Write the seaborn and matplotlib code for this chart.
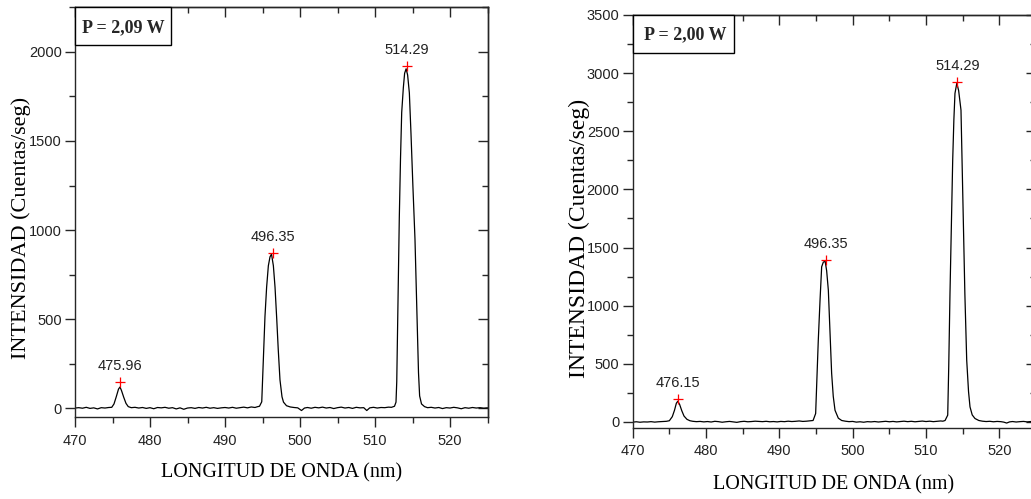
import numpy as np
import pandas as pd
import matplotlib
matplotlib.use("Agg")
import matplotlib.pyplot as plt
from matplotlib.patches import Rectangle
from matplotlib.ticker import MultipleLocator
import seaborn as sns

# ---- Spectrum at P = 2,09 W ----
wl_209 = [470.0, 470.5, 471.0, 471.5, 472.0, 472.5, 473.0, 473.5, 474.0, 474.5,
          474.9, 475.2, 475.5, 475.8, 476.0, 476.2, 476.5, 476.8, 477.1, 477.5,
          478.0, 478.5, 479.0, 479.5, 480.0, 480.5, 481.0, 481.5, 482.0, 482.5,
          483.0, 483.5, 484.0, 484.5, 485.0, 485.5, 486.0, 486.5, 487.0, 487.5,
          488.0, 488.5, 489.0, 489.5, 490.0, 490.5, 491.0, 491.5, 492.0, 492.5,
          493.0, 493.5, 494.0, 494.3, 494.6, 494.9, 495.1, 495.33, 495.55, 495.78,
          496.0, 496.2, 496.45, 496.67, 496.9, 497.1, 497.33, 497.6, 497.8, 498.2,
          498.7, 499.2, 499.7, 500.2, 500.6, 501.0, 501.5, 502.0, 502.5, 503.0,
          503.5, 504.0, 504.5, 505.0, 505.5, 506.0, 506.5, 507.0, 507.5, 508.0,
          508.5, 508.9, 509.3, 509.8, 510.3, 510.8, 511.3, 511.8, 512.2, 512.6,
          512.8, 512.9, 513.05, 513.24, 513.4, 513.56, 513.78, 513.95, 514.15, 514.35,
          514.58, 514.8, 515.05, 515.33, 515.6, 515.8, 515.95, 516.2, 516.6, 517.0,
          517.5, 518.0, 518.5, 519.0, 519.5, 520.0, 520.5, 521.0, 521.5, 522.0,
          522.5, 523.0, 523.5, 524.0, 524.5, 525.0]
int_209 = [2, 4, 1, 6, 0, 3, -3, 4, 2, 5,
           6, 25, 65, 108, 120, 100, 62, 28, 10, 4,
           6, 2, 5, 0, 4, -2, 5, 3, 6, 1,
           4, -3, 3, -5, 2, 4, 0, 5, 2, 6,
           1, 4, 0, 3, 5, 2, 6, 1, 4, 7,
           3, 8, 5, 9, 12, 37, 260, 516, 680, 800,
           850, 866, 800, 680, 500, 330, 160, 65, 35, 15,
           8, 5, 3, -12, 2, 5, 1, 6, 3, 7,
           2, 5, -1, 4, 7, 2, 5, 0, 6, 3,
           4, -12, 3, 6, 2, 5, 4, 7, 6, 12,
           35, 150, 550, 1070, 1400, 1660, 1800, 1880, 1905, 1870,
           1770, 1540, 1250, 950, 520, 200, 70, 25, 10, 4,
           6, 2, 5, -1, 4, 2, 6, 3, -2, 4,
           1, 5, 2, 4, 1, 3]
peak_wl_209 = [475.96, 496.35, 514.29]
peak_int_209 = [146, 873, 1921]

# ---- Spectrum at P = 2,00 W ----
wl_200 = [470.0, 470.5, 471.0, 471.5, 472.0, 472.5, 473.0, 473.5, 474.0, 474.6,
          475.0, 475.4, 475.7, 475.95, 476.15, 476.4, 476.7, 477.0, 477.4, 477.8,
          478.2, 478.7, 479.2, 479.7, 480.2, 480.7, 481.2, 481.7, 482.2, 482.7,
          483.2, 483.7, 484.2, 484.7, 485.2, 485.7, 486.2, 486.7, 487.2, 487.7,
          488.2, 488.7, 489.2, 489.7, 490.2, 490.7, 491.2, 491.7, 492.2, 492.7,
          493.2, 493.7, 494.2, 494.6, 494.95, 495.1, 495.31, 495.55, 495.77, 496.0,
          496.25, 496.45, 496.68, 496.9, 497.13, 497.35, 497.59, 498.04, 498.5, 499.0,
          499.5, 500.0, 500.5, 501.0, 501.5, 502.0, 502.5, 503.0, 503.5, 504.0,
          504.5, 505.0, 505.5, 506.0, 506.5, 507.0, 507.5, 508.0, 508.5, 509.0,
          509.5, 510.0, 510.5, 511.0, 511.5, 512.0, 512.3, 512.6, 512.96, 513.1,
          513.27, 513.45, 513.64, 513.8, 513.95, 514.2, 514.45, 514.77, 514.93, 515.09,
          515.3, 515.55, 515.8, 516.0, 516.3, 516.68, 517.2, 517.7, 518.2, 518.7,
          519.2, 519.7, 520.2, 520.6, 521.0, 521.4, 521.8, 522.3, 522.8, 523.3,
          523.8, 524.3, 524.8, 525.0]
int_200 = [-2, 1, -3, 0, -1, 2, -2, 1, 3, 5,
           10, 45, 100, 160, 178, 150, 95, 50, 22, 10,
           5, 2, 4, 0, 3, -1, 5, 2, -3, 1,
           4, 0, -4, 2, 5, 1, 3, 6, 4, 2,
           5, 1, 3, 0, 4, 2, 6, 3, 5, 8,
           4, 6, 9, 12, 72, 330, 703, 1050, 1334, 1375,
           1380, 1300, 1133, 780, 418, 220, 100, 32, 12, 6,
           2, 4, -2, 1, -3, 2, 0, 3, -1, 2,
           5, 1, 4, 0, 3, 6, 2, 5, 1, 4,
           7, 3, 6, 2, 5, 8, 6, 12, 58, 480,
           1105, 1680, 2252, 2600, 2826, 2913, 2850, 2682, 2200, 1678,
           1100, 531, 260, 129, 60, 29, 12, 6, 3, 5,
           1, 4, 2, -2, -10, 0, 3, -1, 2, 4,
           0, 3, 1, 2]
peak_wl_200 = [476.15, 496.35, 514.29]
peak_int_200 = [195, 1391, 2926]

power_labels = ["P = 2,09 W", "P = 2,00 W"]
x_title = "LONGITUD DE ONDA (nm)"
y_title = "INTENSIDAD (Cuentas/seg)"

sns.set_style("ticks")
plt.rcParams["font.family"] = ["Liberation Sans", "DejaVu Sans"]
plt.rcParams["axes.linewidth"] = 1.0

SERIF = ["Liberation Serif", "DejaVu Serif"]
TICK_COLOR = "#222222"

fig = plt.figure(figsize=(10.31, 4.99), dpi=100)
W, H = 1031.0, 499.0


def px_axes(left, top, right, bottom):
    return fig.add_axes([left / W, 1 - bottom / H, (right - left) / W, (bottom - top) / H])


panels = [
    dict(ax=px_axes(75, 7.3, 487.5, 417.3), wl=wl_209, inten=int_209,
         pk_wl=peak_wl_209, pk_int=peak_int_209, ylim=(-50, 2250),
         label=power_labels[0], box=(0.233, 0.0927), box_text=(0.116, 0.949),
         ylab_pos=(-0.131, 0.463), ylab_size=16, xlab_pos=(0.5, -0.135)),
    dict(ax=px_axes(632.7, 15, 1036, 427.7), wl=wl_200, inten=int_200,
         pk_wl=peak_wl_200, pk_int=peak_int_200, ylim=(-50, 3500),
         label=power_labels[1], box=(0.25, 0.0913), box_text=(0.130, 0.952),
         ylab_pos=(-0.133, 0.458), ylab_size=17, xlab_pos=(0.498, -0.139)),
]

for p in panels:
    ax = p["ax"]
    df = pd.DataFrame({"wl": p["wl"], "inten": p["inten"]})
    sns.lineplot(data=df, x="wl", y="inten", ax=ax, color="black", linewidth=0.9,
                 estimator=None)
    pk = pd.DataFrame({"wl": p["pk_wl"], "inten": p["pk_int"]})
    sns.scatterplot(data=pk, x="wl", y="inten", ax=ax, marker="+", color="red",
                    s=60, linewidth=0.9, zorder=5)
    for wl, val in zip(p["pk_wl"], p["pk_int"]):
        ax.annotate(f"{wl:.2f}", xy=(wl, val), xytext=(0, 16),
                    textcoords="offset pixels", ha="center", va="center",
                    fontsize=10.5, color=TICK_COLOR)

    ax.set_xlim(470, 525)
    ax.set_ylim(*p["ylim"])
    ax.xaxis.set_major_locator(MultipleLocator(10))
    ax.xaxis.set_minor_locator(MultipleLocator(5))
    ax.yaxis.set_major_locator(MultipleLocator(500))
    ax.yaxis.set_minor_locator(MultipleLocator(250))
    ax.tick_params(which="major", direction="out", length=7, width=1.0,
                   labelsize=10.5, labelcolor=TICK_COLOR, pad=2.5)
    ax.tick_params(which="minor", direction="out", length=4, width=1.0)
    ax.tick_params(axis="x", which="major", pad=5)

    # mirrored inward ticks on top and right
    top = ax.secondary_xaxis("top")
    top.xaxis.set_major_locator(MultipleLocator(10))
    top.xaxis.set_minor_locator(MultipleLocator(5))
    top.tick_params(which="major", direction="in", length=7, width=1.0, labeltop=False)
    top.tick_params(which="minor", direction="in", length=4, width=1.0)
    right = ax.secondary_yaxis("right")
    right.yaxis.set_major_locator(MultipleLocator(500))
    right.yaxis.set_minor_locator(MultipleLocator(250))
    right.tick_params(which="major", direction="in", length=7, width=1.0, labelright=False)
    right.tick_params(which="minor", direction="in", length=4, width=1.0)

    ax.set_xlabel(x_title, fontsize=14.5, family=SERIF, color="black")
    ax.set_ylabel(y_title, fontsize=p["ylab_size"], family=SERIF, color="black")
    ax.xaxis.set_label_coords(*p["xlab_pos"])
    ax.xaxis.label.set_va("center")
    ax.yaxis.set_label_coords(*p["ylab_pos"])
    ax.yaxis.label.set_va("center")

    bw, bh = p["box"]
    ax.add_patch(Rectangle((0, 1 - bh), bw, bh, transform=ax.transAxes,
                           facecolor="white", edgecolor="black", linewidth=1.0,
                           zorder=6, clip_on=False))
    ax.text(*p["box_text"], p["label"], transform=ax.transAxes, ha="center",
            va="center", fontsize=13, fontweight="bold", family=SERIF, zorder=7)

fig.savefig("out.png", dpi=100)
